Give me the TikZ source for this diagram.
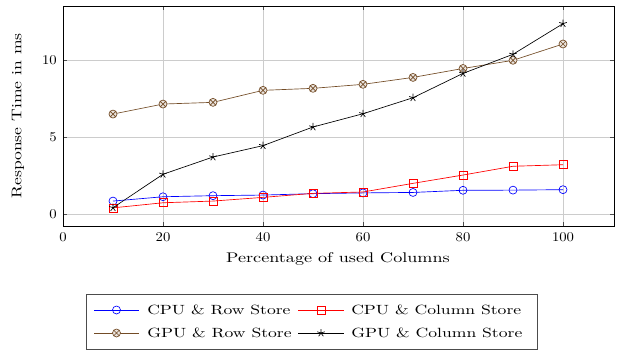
\documentclass[tikz,border=0pt]{standalone}
\usetikzlibrary{plotmarks}
\definecolor{gbrown}{rgb}{0.45,0.3,0.15}
\begin{document}
\begin{tikzpicture}[x=0.75pt,y=-0.75pt,
  gridline/.style={gray!40,line width=0.5pt},
  tick/.style={black!70,line width=0.4pt},
  ticklab/.style={font=\normalsize,inner sep=0pt},
  series/.style={line width=0.5pt},
  brownmark/.style={mark=otimes*,mark size=3pt,mark options={fill=gbrown!15!white}},
  every mark/.append style={solid}]
\useasboundingbox (0,0) rectangle (628,351);
% axis area
\coordinate (A0) at (63,226);
\coordinate (A1) at (614,6);
% grid
\foreach \X in {20,40,60,80,100}{
  \draw[gridline] ({63+5*\X},6) -- ({63+5*\X},226);
}
\foreach \Y in {0,5,10}{
  \draw[gridline] (63,{214-15.4*\Y}) -- (614,{214-15.4*\Y});
}
% ticks
\foreach \X in {0,20,40,60,80,100}{
  \draw[tick] ({63+5*\X},226) -- ({63+5*\X},222);
  \draw[tick] ({63+5*\X},6) -- ({63+5*\X},10);
  \node[ticklab] (xt\X) at ({63+5*\X},237) {\scalebox{1.1}[1]{\X}};
}
\foreach \Y in {0,5,10}{
  \draw[tick] (63,{214-15.4*\Y}) -- (67,{214-15.4*\Y});
  \draw[tick] (614,{214-15.4*\Y}) -- (610,{214-15.4*\Y});
  \node[ticklab,anchor=east] (yt\Y) at (57,{214-15.4*\Y}) {\scalebox{1.1}[1]{\Y}};
}
\draw[line width=0.6pt] (A0) rectangle (A1);
\node (xlab) at (338,259) {\scalebox{1.36}[1.05]{Percentage of used Columns}};
\node[rotate=90] (ylab) at (18,116) {\scalebox{1.32}[1.05]{Response Time in ms}};
% data (in data coordinates)
\begin{scope}[shift={(63,214)},x=3.75pt,y=11.55pt]
\draw[series,blue,mark=o,mark size=3pt] plot coordinates {(10,0.84)(20,1.12)(30,1.19)(40,1.23)(50,1.32)(60,1.37)(70,1.40)(80,1.54)(90,1.55)(100,1.58)};
\draw[series,red,mark=square,mark size=3pt] plot coordinates {(10,0.40)(20,0.73)(30,0.84)(40,1.08)(50,1.34)(60,1.43)(70,1.99)(80,2.53)(90,3.10)(100,3.20)};
\draw[series,gbrown,brownmark] plot coordinates {(10,6.49)(20,7.14)(30,7.25)(40,8.03)(50,8.16)(60,8.42)(70,8.87)(80,9.45)(90,9.98)(100,11.04)};
\draw[series,black,mark=star,mark size=3pt] plot coordinates {(10,0.41)(20,2.58)(30,3.70)(40,4.44)(50,5.65)(60,6.51)(70,7.55)(80,9.13)(90,10.37)(100,12.36)};
\end{scope}
% legend
\draw[black!70,line width=0.6pt] (86,294) rectangle (537,349);
\draw[series,blue] (94,310) -- (139,310); \draw[blue,series] plot[mark=o,mark size=3pt] coordinates {(116.5,310)};
\draw[series,red] (298,310) -- (344,310); \draw[red,series] plot[mark=square,mark size=3pt] coordinates {(321,310)};
\draw[series,gbrown] (94,333) -- (139,333); \draw[gbrown,series] plot[brownmark] coordinates {(116.5,333)};
\draw[series,black] (298,333) -- (344,333); \draw[black,series] plot[mark=star,mark size=3pt] coordinates {(321,333)};
\node[anchor=west,inner sep=0pt] (l1) at (147,310) {\scalebox{1.32}[1]{CPU \& Row Store}};
\node[anchor=west,inner sep=0pt] (l2) at (351,310) {\scalebox{1.32}[1]{CPU \& Column Store}};
\node[anchor=west,inner sep=0pt] (l3) at (147,333) {\scalebox{1.32}[1]{GPU \& Row Store}};
\node[anchor=west,inner sep=0pt] (l4) at (351,333) {\scalebox{1.32}[1]{GPU \& Column Store}};
\end{tikzpicture}
\end{document}
